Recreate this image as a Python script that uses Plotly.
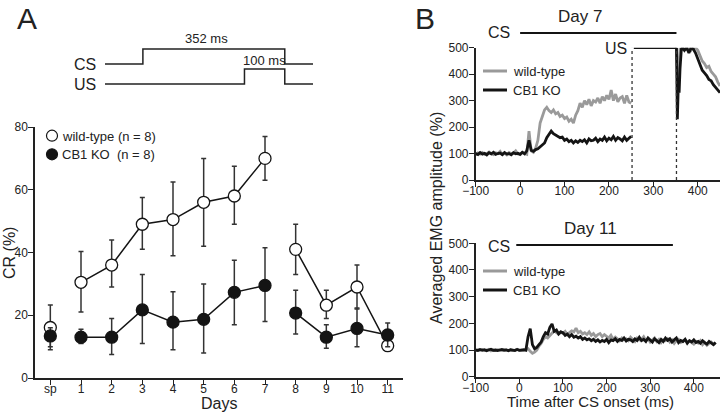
import plotly.graph_objects as go

# ---- panel A: CR (%) per session ----
day_pos = [0, 1, 2, 3, 4, 5, 6, 7, 8, 9, 10, 11]
day_labels = ["sp", "1", "2", "3", "4", "5", "6", "7", "8", "9", "10", "11"]

wt_mean = [16.1, 30.5, 36.0, 49.0, 50.5, 56.0, 58.0, 70.0, 41.0, 23.2, 29.0, 10.3]
wt_hi = [23.3, 40.3, 44.0, 57.5, 62.5, 70.0, 67.5, 77.0, 49.0, 28.0, 36.0, 12.0]
wt_lo = [10.0, 21.0, 29.0, 41.0, 39.0, 42.0, 49.0, 63.0, 33.0, 19.0, 22.0, 8.7]

ko_mean = [13.4, 13.0, 13.0, 21.7, 17.8, 18.7, 27.3, 29.5, 20.7, 13.0, 15.8, 13.7]
ko_hi = [16.0, 15.5, 19.0, 33.0, 27.5, 30.0, 37.5, 41.5, 28.0, 17.0, 22.3, 17.5]
ko_lo = [9.0, 11.0, 7.5, 11.0, 9.0, 8.0, 17.0, 18.0, 14.0, 9.5, 10.0, 10.0]

# connected runs: sp alone, 1-7, 8-11
segments = [[0], [1, 2, 3, 4, 5, 6, 7], [8, 9, 10, 11]]

# ---- stimulus timing (ms) ----
cs_on, cs_off = 0, 352
us_on, us_off = 252, 352

# ---- panel B, Day 7 (EMG %, 5 ms bins) ----
t7_pre = list(range(-100, 251, 5))
d7_wt_pre = [
    95, 102, 98, 104, 97, 100, 106, 99, 96, 103,
    100, 108, 97, 101, 95, 104, 99, 102, 110, 98,
    96, 104, 100, 97, 185, 110, 105, 120, 150, 215,
    240, 265, 275, 262, 255, 265, 250, 255, 240, 245,
    232, 238, 222, 230, 215, 245, 262, 290, 275, 300,
    285, 305, 280, 300, 295, 310, 290, 315, 300, 320,
    305, 340, 300, 325, 295, 310, 315, 290, 320, 295,
    290,
]
d7_ko_pre = [
    100, 96, 104, 98, 101, 95, 103, 99, 105, 97,
    100, 102, 96, 104, 98, 100, 95, 103, 99, 101,
    97, 105, 99, 110, 150, 112, 108, 115, 118, 125,
    130, 140, 160, 172, 185, 175, 170, 168, 160, 162,
    150, 155, 145, 150, 140, 148, 142, 150, 145, 152,
    140, 155, 148, 150, 158, 145, 155, 150, 162, 148,
    158, 152, 165, 150, 160, 155, 148, 162, 150, 158,
    165,
]
t7_post = [352, 354, 356, 358, 360, 363, 366, 370, 375, 380, 385, 390,
           395, 400, 405, 410, 415, 420, 425, 430, 435, 440, 445, 450]
d7_wt_post = [500, 420, 340, 410, 500, 490, 500, 500, 495, 500, 490, 500,
              500, 490, 470, 450, 440, 425, 430, 410, 400, 390, 370, 355]
d7_ko_post = [500, 230, 350, 330, 420, 495, 500, 490, 500, 480, 500, 495,
              480, 460, 440, 415, 405, 395, 380, 375, 360, 350, 340, 330]

# ---- panel B, Day 11 ----
t11 = list(range(-100, 451, 5))
d11_wt = [
    100, 101, 99, 102, 98, 100, 103, 97, 100, 99,
    101, 100, 98, 102, 100, 99, 101, 98, 100, 103,
    99, 100, 98, 101, 105, 95, 88, 92, 100, 115,
    125, 140, 150, 145, 155, 165, 172, 165, 160, 168,
    162, 170, 158, 165, 172, 168, 182, 165, 170, 160,
    165, 158, 168, 155, 162, 150, 158, 162, 150, 158,
    152, 145, 155, 140, 148, 142, 135, 145, 138, 142,
    135, 148, 140, 132, 145, 138, 140, 150, 135, 142,
    130, 138, 145, 132, 140, 128, 138, 135, 142, 130,
    138, 125, 135, 140, 128, 132, 138, 125, 135, 128,
    122, 132, 126, 135, 120, 128, 118, 125, 130, 122,
    128,
]
d11_ko = [
    100, 98, 102, 99, 101, 97, 100, 103, 99, 100,
    98, 101, 102, 99, 100, 97, 101, 100, 98, 102,
    99, 100, 101, 99, 150, 180, 120, 105, 110, 120,
    130, 150, 165, 160, 185, 198, 170, 175, 160, 168,
    165, 155, 160, 150, 158, 148, 152, 145, 150, 140,
    145, 138, 142, 135, 140, 132, 138, 130, 136, 132,
    140, 128, 138, 135, 142, 132, 140, 136, 145, 134,
    140, 138, 132, 142, 136, 148, 135, 140, 132, 145,
    138, 130, 142, 135, 128, 140, 132, 145, 136, 142,
    130, 138, 145, 128, 136, 132, 140, 126, 135, 130,
    138, 128, 132, 125, 135, 128, 122, 132, 126, 120,
    128,
]

FONT = "Liberation Sans, Arial, Helvetica, sans-serif"
W, H = 720, 413
GRAY = "#9a9a9a"
BLACK = "#141414"


def px(x):
    return x / W


def py(y):
    return 1 - y / H


def split(vals):
    xs, ys = [], []
    for seg in segments:
        xs += [day_pos[i] for i in seg] + [None]
        ys += [vals[i] for i in seg] + [None]
    return xs, ys


fig = go.Figure()

# panel A lines + markers
for mean, hi, lo, fill in [
    (wt_mean, wt_hi, wt_lo, "white"),
    (ko_mean, ko_hi, ko_lo, BLACK),
]:
    xs, ys = split(mean)
    fig.add_trace(go.Scatter(x=xs, y=ys, mode="lines", line=dict(color=BLACK, width=1.5),
                             hoverinfo="skip", xaxis="x", yaxis="y"))
    fig.add_trace(go.Scatter(
        x=day_pos, y=mean, mode="markers",
        marker=dict(size=12, color=fill, line=dict(color=BLACK, width=1.3)),
        error_y=dict(type="data", symmetric=False,
                     array=[h - m for h, m in zip(hi, mean)],
                     arrayminus=[m - l for m, l in zip(mean, lo)],
                     color="#333333", thickness=1.5, width=2.5),
        xaxis="x", yaxis="y"))

# panel A schematic (CS / US pulses)
sch_t = [-94, cs_on, cs_on, cs_off, cs_off, 422]
fig.add_trace(go.Scatter(x=sch_t, y=[1.73, 1.73, 2.73, 2.73, 1.73, 1.73], mode="lines",
                         line=dict(color="#222", width=1.5), xaxis="x4", yaxis="y4"))
us_t = [-94, us_on, us_on, us_off, us_off, 422]
fig.add_trace(go.Scatter(x=us_t, y=[0.4, 0.4, 1.4, 1.4, 0.4, 0.4], mode="lines",
                         line=dict(color="#222", width=1.5), xaxis="x4", yaxis="y4"))

# panel B Day 7
for x, y, c in [(t7_pre, d7_wt_pre, GRAY), (t7_pre, d7_ko_pre, BLACK),
                (t7_post, d7_wt_post, GRAY), (t7_post, d7_ko_post, BLACK)]:
    fig.add_trace(go.Scatter(x=x, y=y, mode="lines", line=dict(color=c, width=2.8),
                             xaxis="x2", yaxis="y2"))

# panel B Day 11
for y, c in [(d11_wt, GRAY), (d11_ko, BLACK)]:
    fig.add_trace(go.Scatter(x=t11, y=y, mode="lines", line=dict(color=c, width=2.8),
                             xaxis="x3", yaxis="y3"))

axis_common = dict(showgrid=False, zeroline=False, showline=True, linecolor="#222",
                   linewidth=1.5, ticks="outside", ticklen=5, tickwidth=1.3, tickcolor="#222",
                   automargin=False,
                   tickfont=dict(size=12, color="#222", family=FONT))
xtick = dict(axis_common, ticklabelstandoff=-6)
ytick = dict(axis_common, ticklabelstandoff=-2)

fig.update_layout(
    width=W, height=H, margin=dict(l=0, r=0, t=0, b=0),
    paper_bgcolor="white", plot_bgcolor="white", showlegend=False,
    font=dict(family=FONT, color="#222"),
    xaxis=dict(xtick, domain=[px(35), px(403)], range=[-0.5, 11.5],
               tickvals=day_pos, ticktext=day_labels, anchor="y"),
    yaxis=dict(ytick, domain=[py(378), py(127)], range=[0, 80],
               tickvals=[0, 20, 40, 60, 80], anchor="x"),
    xaxis2=dict(xtick, domain=[px(475.7), 1], range=[-100, 450],
                tickvals=[-100, 0, 100, 200, 300, 400], anchor="y2"),
    yaxis2=dict(ytick, domain=[py(180), py(47.7)], range=[0, 500],
                tickvals=[0, 100, 200, 300, 400, 500], anchor="x2"),
    xaxis3=dict(xtick, domain=[px(475.7), 1], range=[-100, 460],
                tickvals=[-100, 0, 100, 200, 300, 400], anchor="y3"),
    yaxis3=dict(ytick, domain=[py(376.7), py(243.3)], range=[0, 500],
                tickvals=[0, 100, 200, 300, 400, 500], anchor="x3"),
    xaxis4=dict(domain=[px(105), px(313)], range=[-94, 422], visible=False, anchor="y4"),
    yaxis4=dict(domain=[py(90), py(45)], range=[0, 3], visible=False, anchor="x4"),
)

shapes = [
    # stimulus markers in panel B
    dict(type="line", xref="x2", yref="y2", x0=us_on, x1=us_on, y0=0, y1=500,
         line=dict(color="#333", width=1.3, dash="dot")),
    dict(type="line", xref="x2", yref="y2", x0=us_off, x1=us_off, y0=0, y1=500,
         line=dict(color="#333", width=1.3, dash="dot")),
    dict(type="line", xref="x2", yref="y2", x0=us_on + 4, x1=us_off, y0=500, y1=500,
         line=dict(color=BLACK, width=2.5)),
    dict(type="line", xref="x2", yref="paper", x0=cs_on, x1=cs_off, y0=py(33), y1=py(33),
         line=dict(color=BLACK, width=2)),
    dict(type="line", xref="x3", yref="paper", x0=cs_on - 7, x1=cs_off, y0=py(245), y1=py(245),
         line=dict(color=BLACK, width=2)),
    # legend glyphs, panel A
    dict(type="circle", xref="paper", yref="paper", x0=px(46.5), x1=px(57.5),
         y0=py(141.2), y1=py(130.2), fillcolor="white", line=dict(color=BLACK, width=1.2)),
    dict(type="circle", xref="paper", yref="paper", x0=px(46.5), x1=px(57.5),
         y0=py(159.8), y1=py(148.8), fillcolor=BLACK, line=dict(color=BLACK, width=1.2)),
]
# legend glyphs, panel B
for y0, c in [(71, GRAY), (90, BLACK), (271, GRAY), (290, BLACK)]:
    shapes.append(dict(type="line", xref="paper", yref="paper", x0=px(483), x1=px(507),
                       y0=py(y0), y1=py(y0), line=dict(color=c, width=3)))
fig.update_layout(shapes=shapes)


def label(x, y, text, size, xanchor="center", **kw):
    fig.add_annotation(x=px(x), y=py(y), xref="paper", yref="paper", text=text,
                       showarrow=False, xanchor=xanchor, yanchor="middle",
                       font=dict(size=size, family=FONT, color="#222"), **kw)


label(27, 18, "A", 30)
label(425, 18, "B", 30)
label(98, 64, "CS", 16, xanchor="right")
label(98, 84, "US", 16, xanchor="right")
label(206, 39, "352 ms", 13)
label(264, 61, "100 ms", 13)
label(60, 136, "wild-type (n = 8)", 13, xanchor="left")
label(60, 155, "CB1 KO\u00a0 (n = 8)", 13, xanchor="left")
label(219, 403, "Days", 16)
label(10, 253, "CR (%)", 16, textangle=-90)
label(580, 17, "Day 7", 17)
label(590, 228, "Day 11", 17)
label(512, 33, "CS", 16, xanchor="right")
label(629, 48, "US", 16, xanchor="right")
label(512, 246, "CS", 16, xanchor="right")
label(511, 71, "wild-type", 13, xanchor="left")
label(511, 90, "CB1 KO", 13, xanchor="left")
label(511, 271, "wild-type", 13, xanchor="left")
label(511, 290, "CB1 KO", 13, xanchor="left")
label(437, 218, "Averaged EMG amplitude (%)", 16, textangle=-90)
label(590, 401, "Time after CS onset (ms)", 15)

# the page body has a default 8px margin; drop it so the figure sits at (0, 0)
fig.write_html("out.html", config={"displayModeBar": False},
               post_script="document.body.style.margin='0px';")
